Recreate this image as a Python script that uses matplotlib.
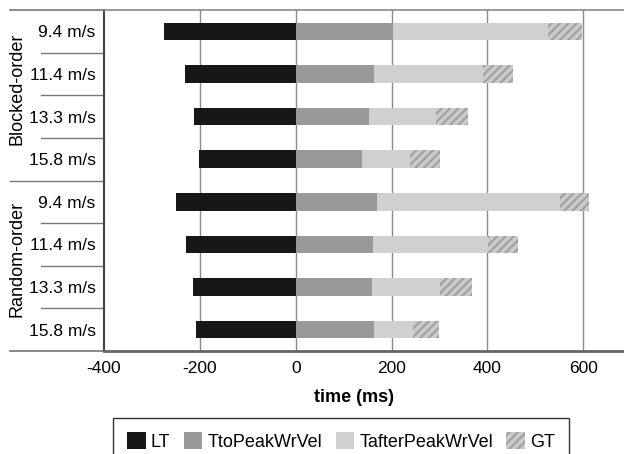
import numpy as np
import matplotlib
matplotlib.use("Agg")
import matplotlib.pyplot as plt
from matplotlib.lines import Line2D
from matplotlib.patches import Patch

plt.rcParams['font.family'] = ['Liberation Sans', 'DejaVu Sans']
plt.rcParams['hatch.linewidth'] = 1.6

# rows, top to bottom
groups = ['Blocked-order', 'Random-order']
speeds = ['9.4 m/s', '11.4 m/s', '13.3 m/s', '15.8 m/s']
row_labels = speeds + speeds

# durations in ms (LT drawn to the left of zero)
lt = [274, 232, 213, 201, 249, 228, 215, 207]
t_to_peak = [202, 164, 152, 139, 170, 162, 160, 164]
t_after_peak = [324, 227, 141, 100, 381, 239, 141, 81]
gt = [71, 62, 67, 62, 62, 63, 67, 54]

x_ticks = [-400, -200, 0, 200, 400, 600]

c_lt = '#171717'
c_to = '#999999'
c_after = '#d0d0d0'
c_gt_face = '#cbcbcb'
c_gt_hatch = '#a2a2a2'

fig = plt.figure(figsize=(6.24, 4.54), dpi=100)
ax = fig.add_axes([104 / 624, 1 - 351 / 454, 1 - 104 / 624, 341 / 454])

n = len(row_labels)
y = np.arange(n)
h = 0.41

lt_arr = np.array(lt)
to_arr = np.array(t_to_peak)
after_arr = np.array(t_after_peak)
gt_arr = np.array(gt)

ax.barh(y, -lt_arr, height=h, color=c_lt, zorder=3)
ax.barh(y, to_arr, height=h, color=c_to, zorder=3)
ax.barh(y, after_arr, left=to_arr, height=h, color=c_after, zorder=3)
ax.barh(y, gt_arr, left=to_arr + after_arr, height=h, facecolor=c_gt_face,
        edgecolor=c_gt_hatch, linewidth=0, hatch='////', zorder=3)

ax.set_ylim(n - 0.5, -0.5)
ax.set_xlim(-400, 685)
ax.set_xticks(x_ticks)
ax.set_xticklabels([str(v) for v in x_ticks], fontsize=12.5)
ax.set_yticks(y)
ax.set_yticklabels(row_labels, fontsize=12.5)
ax.tick_params(axis='both', length=0)
ax.tick_params(axis='y', pad=6)
ax.tick_params(axis='x', pad=7)

for v in x_ticks[1:]:
    ax.axvline(v, color='#8a8a8a', linewidth=1.0, zorder=1)

ax.spines['right'].set_visible(False)
ax.spines['top'].set_color('#8a8a8a')
ax.spines['top'].set_linewidth(1.2)
ax.spines['bottom'].set_color('#666666')
ax.spines['bottom'].set_linewidth(2.0)
ax.spines['left'].set_color('#444444')
ax.spines['left'].set_linewidth(1.5)

ax.set_xlabel('time (ms)', fontsize=13, fontweight='bold')
ax.xaxis.set_label_coords(0.48, -0.11)

# row separators and group brackets left of the axis
trans = ax.get_yaxis_transform()
x_short = (41 - 104) / 520
x_long = (10 - 104) / 520
for b in np.arange(0.5, n - 1, 1.0):
    x0 = x_long if b == 3.5 else x_short
    ax.add_line(Line2D([x0, 0], [b, b], transform=trans, color='#777777',
                       linewidth=1.0, clip_on=False))
for yy in [-0.5, n - 0.5]:
    ax.add_line(Line2D([x_long, 0], [yy, yy], transform=trans, color='#777777',
                       linewidth=1.2, clip_on=False))

for gi, g in enumerate(groups):
    ax.text((17 - 104) / 520, gi * 4 + 1.35, g, transform=trans, rotation=90,
            ha='center', va='center', fontsize=13)

handles = [
    Patch(facecolor=c_lt, label='LT'),
    Patch(facecolor=c_to, label='TtoPeakWrVel'),
    Patch(facecolor=c_after, label='TafterPeakWrVel'),
    Patch(facecolor=c_gt_face, edgecolor=c_gt_hatch, linewidth=0, hatch='////', label='GT'),
]
leg = fig.legend(handles=handles, loc='upper left', bbox_to_anchor=(113 / 624, 1 - 418 / 454),
                 borderaxespad=0, ncol=4, fontsize=13, frameon=True, fancybox=False,
                 edgecolor='black', handlelength=1.0, handleheight=1.0, handletextpad=0.3,
                 columnspacing=0.75, borderpad=0.8)
leg.get_frame().set_linewidth(1.0)

fig.savefig('out.png', dpi=100)
